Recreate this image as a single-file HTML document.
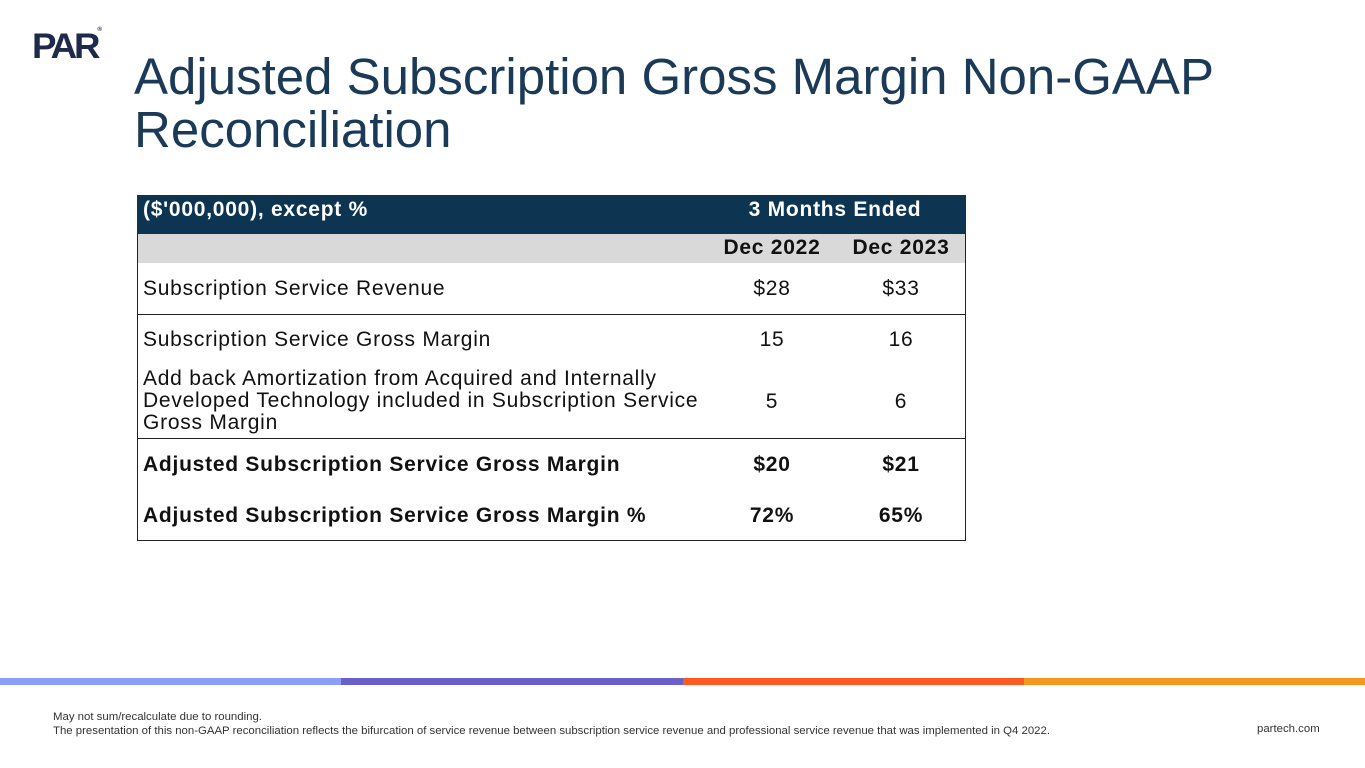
<!DOCTYPE html>
<html><head><meta charset="utf-8">
<style>
body{margin:0;width:1365px;height:768px;background:#fff;position:relative;overflow:hidden;font-family:"Liberation Sans",Arial,sans-serif}
.a{position:absolute;white-space:nowrap}
.t{font-size:21px;color:#111;letter-spacing:0.75px}
.b{font-weight:bold}
.c{text-align:center;width:120px}
.hl{position:absolute;left:137px;width:828px;height:1px;background:#222}
</style></head><body>
<div class="a" style="left:32px;top:27px;font-size:35px;font-weight:900;color:#1f2a4a;letter-spacing:-3px;transform:scaleX(1.05);transform-origin:left">PAR<span style="font-size:6px;vertical-align:top;letter-spacing:0">®</span></div>
<div class="a" style="left:134px;top:50px;font-size:51px;line-height:53px;color:#1a3a57">Adjusted Subscription Gross Margin Non-GAAP<br>Reconciliation</div>

<div style="position:absolute;left:137px;top:195px;width:827px;height:345px;border:1px solid #222;border-top:none"></div>
<div class="a" style="left:137px;top:195px;width:829px;height:39px;background:#0d3451"></div>
<div class="a" style="left:138px;top:234px;width:827px;height:29px;background:#d9d9d9"></div>
<div class="a t b" style="left:143px;top:198px;color:#fff;line-height:24px">($'000,000), except %</div>
<div class="a t b" style="left:723px;top:198px;color:#fff;width:224px;text-align:center;line-height:24px">3 Months Ended</div>
<div class="a t b c" style="left:712px;top:236px;line-height:24px">Dec 2022</div>
<div class="a t b c" style="left:841px;top:236px;line-height:24px">Dec 2023</div>

<div class="a t" style="left:143px;top:277px">Subscription Service Revenue</div>
<div class="a t c" style="left:712px;top:277px">$28</div>
<div class="a t c" style="left:841px;top:277px">$33</div>
<div class="hl" style="top:314px"></div>

<div class="a t" style="left:143px;top:328px">Subscription Service Gross Margin</div>
<div class="a t c" style="left:712px;top:328px">15</div>
<div class="a t c" style="left:841px;top:328px">16</div>

<div class="a t" style="left:143px;top:368px;line-height:22px">Add back Amortization from Acquired and Internally<br>Developed Technology included in Subscription Service<br>Gross Margin</div>
<div class="a t c" style="left:712px;top:390px">5</div>
<div class="a t c" style="left:841px;top:390px">6</div>
<div class="hl" style="top:438px"></div>

<div class="a t b" style="left:143px;top:453px">Adjusted Subscription Service Gross Margin</div>
<div class="a t b c" style="left:712px;top:453px">$20</div>
<div class="a t b c" style="left:841px;top:453px">$21</div>

<div class="a t b" style="left:143px;top:504px">Adjusted Subscription Service Gross Margin %</div>
<div class="a t b c" style="left:712px;top:504px">72%</div>
<div class="a t b c" style="left:841px;top:504px">65%</div>

<div class="a" style="left:0;top:678px;width:341px;height:7px;background:#8c9ef7"></div>
<div class="a" style="left:341px;top:678px;width:342px;height:7px;background:#6a60cc"></div>
<div class="a" style="left:683px;top:678px;width:341px;height:7px;background:#fb5a22"></div>
<div class="a" style="left:1024px;top:678px;width:341px;height:7px;background:#f5971f"></div>

<div class="a" style="left:53px;top:710px;font-size:11.4px;line-height:14px;color:#333">May not sum/recalculate due to rounding.<br>The presentation of this non-GAAP reconciliation reflects the bifurcation of service revenue between subscription service revenue and professional service revenue that was implemented in Q4 2022.</div>
<div class="a" style="left:1257px;top:723px;font-size:11.4px;color:#333">partech.com</div>
</body></html>
